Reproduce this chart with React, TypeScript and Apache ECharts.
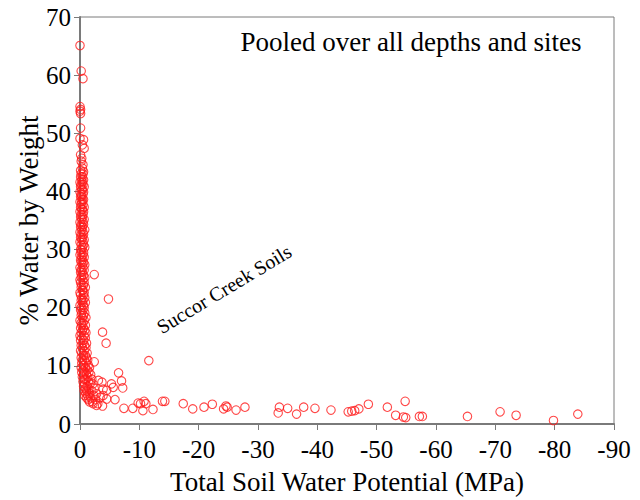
import React, { useEffect, useRef } from "react";
import * as echarts from "echarts";

// [potential (MPa), % water by weight]
const topPoints: [number, number][] = [
  [0, 65.1], [-0.2, 60.7], [-0.5, 59.4], [0, 54.6], [-0.1, 54.1], [0, 53.8], [-0.1, 53.4],
  [-0.1, 50.9], [0, 49.1], [-0.6, 48.9], [-0.4, 48.0], [-0.7, 47.4], [-0.1, 46.3],
  [-0.3, 45.7], [-0.2, 45.2], [-0.5, 44.6], [-0.4, 44.0], [-0.1, 43.6], [-0.6, 43.4],
];

const denseColumn: [number, number][] = [
  [-0.2, 43.0], [-0.5, 43.0], [-0.1, 42.5], [-0.4, 42.5], [-0.3, 42.0], [-0.6, 42.0],
  [0, 41.6], [-0.4, 41.6], [-0.2, 41.2], [-0.5, 41.2], [-0.1, 40.8], [-0.7, 40.8],
  [-0.3, 40.3], [-0.4, 40.3], [0, 39.9], [-0.6, 39.9], [-0.2, 39.5], [-0.5, 39.5],
  [-0.1, 39.1], [-0.3, 39.1], [-0.4, 38.6], [-0.6, 38.6], [0, 38.2], [-0.3, 38.2],
  [-0.2, 37.8], [-0.5, 37.8], [-0.1, 37.3], [-0.7, 37.3], [-0.3, 36.9], [-0.4, 36.9],
  [0, 36.5], [-0.6, 36.5], [-0.2, 36.0], [-0.5, 36.0], [-0.1, 35.6], [-0.4, 35.6],
  [-0.3, 35.2], [-0.7, 35.2], [0, 34.7], [-0.5, 34.7], [-0.2, 34.3], [-0.6, 34.3],
  [-0.1, 33.9], [-0.4, 33.9], [-0.3, 33.4], [-0.8, 33.4], [0, 33.0], [-0.5, 33.0],
  [-0.2, 32.6], [-0.6, 32.6], [-0.1, 32.1], [-0.4, 32.1], [-0.3, 31.7], [-0.7, 31.7],
  [0, 31.3], [-0.5, 31.3], [-0.2, 30.8], [-0.6, 30.8], [-0.4, 30.4], [-0.8, 30.4],
  [-0.1, 30.0], [-0.3, 30.0], [-0.2, 29.5], [-0.6, 29.5], [0, 29.1], [-0.5, 29.1],
  [-0.3, 28.7], [-0.7, 28.7], [-0.1, 28.2], [-0.4, 28.2], [-0.2, 27.8], [-0.6, 27.8],
  [-0.4, 27.4], [-0.8, 27.4], [0, 26.9], [-0.5, 26.9], [-0.2, 26.5], [-0.7, 26.5],
  [-0.1, 26.1], [-0.4, 26.1], [-0.3, 25.6], [-0.6, 25.6], [-0.2, 25.2], [-0.8, 25.2],
  [0, 24.8], [-0.5, 24.8], [-0.1, 24.3], [-0.7, 24.3], [-0.3, 23.9], [-0.6, 23.9],
  [-0.2, 23.5], [-0.9, 23.5], [-0.4, 23.0], [-0.5, 23.0], [0, 22.6], [-0.7, 22.6],
  [-0.1, 22.2], [-0.6, 22.2], [-0.3, 21.7], [-0.8, 21.7], [-0.2, 21.3], [-0.5, 21.3],
  [-0.4, 20.9], [-0.9, 20.9], [0, 20.4], [-0.6, 20.4], [-0.2, 20.0], [-0.7, 20.0],
  [-0.1, 19.6], [-0.5, 19.6], [-0.3, 19.1], [-0.8, 19.1], [-0.2, 18.7], [-0.6, 18.7],
  [-0.4, 18.3], [-1.0, 18.3], [0, 17.8], [-0.7, 17.8], [-0.2, 17.4], [-0.5, 17.4],
  [-0.3, 17.0], [-0.9, 17.0], [-0.1, 16.5], [-0.6, 16.5], [-0.4, 16.1], [-0.8, 16.1],
  [-0.2, 15.7], [-1.0, 15.7], [0, 15.2], [-0.7, 15.2], [-0.3, 14.8], [-0.9, 14.8],
  [-0.1, 14.4], [-0.6, 14.4], [-0.5, 13.9], [-1.1, 13.9], [-0.2, 13.5], [-0.8, 13.5],
  [-0.4, 13.1], [-1.0, 13.1], [-0.1, 12.6], [-0.7, 12.6], [-0.3, 12.2], [-1.2, 12.2],
  [-0.6, 11.8], [-0.9, 11.8], [-0.2, 11.4], [-1.1, 11.4], [-0.4, 11.0], [-0.8, 11.0],
  [-1.3, 11.0], [-0.3, 10.5], [-1.0, 10.5], [-0.6, 10.1], [-1.4, 10.1], [-0.2, 9.7],
  [-0.9, 9.7], [-1.6, 9.7], [-0.5, 9.3], [-1.2, 9.3], [-0.3, 8.9], [-0.8, 8.9],
  [-1.5, 8.9], [-0.6, 8.5], [-1.1, 8.5], [-1.8, 8.5], [-0.4, 8.1], [-1.3, 8.1],
  [-0.7, 7.7], [-1.0, 7.7], [-2.0, 7.7], [-0.5, 7.3], [-1.4, 7.3], [-0.8, 6.9],
  [-1.7, 6.9], [-2.2, 6.9], [-0.6, 6.5], [-1.2, 6.5], [-0.9, 6.1], [-1.5, 6.1],
  [-2.4, 6.1], [-0.7, 5.7], [-1.1, 5.7], [-2.0, 5.7], [-1.0, 5.3], [-1.6, 5.3],
  [-0.8, 4.9], [-1.3, 4.9], [-2.3, 4.9], [-1.1, 4.5], [-1.8, 4.5], [-1.4, 4.2],
  [-2.6, 4.2], [-1.6, 3.8], [-2.1, 3.8], [-3.0, 3.5],
];

const elbowPoints: [number, number][] = [
  [-2.4, 25.7], [-4.8, 21.5], [-3.8, 15.8], [-4.4, 13.9], [-2.4, 10.7], [-11.6, 10.9],
  [-6.5, 8.8], [-7.0, 7.4], [-7.2, 6.2], [-5.3, 6.9], [-5.6, 6.3], [-3.1, 7.5],
  [-3.7, 7.2], [-3.9, 6.0], [-4.5, 5.8], [-2.8, 5.2], [-3.4, 4.6], [-3.9, 4.9],
  [-5.9, 4.2], [-4.5, 4.3], [-2.2, 3.5], [-2.8, 3.2], [-3.8, 3.1], [-7.4, 2.7],
  [-8.9, 2.7], [-9.8, 3.6], [-10.2, 3.5], [-10.8, 3.9], [-11.1, 3.5], [-10.6, 2.3],
  [-12.3, 2.5],
];

const tailPoints: [number, number][] = [
  [-13.9, 3.9], [-14.3, 3.9], [-17.4, 3.5], [-19.0, 2.6], [-20.9, 2.9], [-22.3, 3.4],
  [-24.2, 2.6], [-24.6, 3.1], [-24.8, 2.9], [-26.3, 2.4], [-27.8, 2.9], [-33.6, 2.9],
  [-33.4, 1.9], [-35.0, 2.7], [-36.5, 1.7], [-37.7, 2.9], [-39.6, 2.7], [-42.3, 2.4],
  [-45.2, 2.1], [-45.8, 2.2], [-46.3, 2.3], [-47.0, 2.6], [-48.6, 3.4], [-51.8, 2.9],
  [-53.2, 1.5], [-54.8, 3.9], [-54.5, 1.2], [-54.9, 1.1], [-57.2, 1.3], [-57.7, 1.3],
  [-65.3, 1.3], [-70.8, 2.1], [-73.5, 1.5], [-79.8, 0.6], [-83.9, 1.7],
];

const xTicks = { min: -90, max: 0, interval: 10 };
const yTicks = { min: 0, max: 70, interval: 10 };
const titleText = "Pooled over all depths and sites";
const annotation = "Succor Creek Soils";

const FONT = "'Liberation Serif', 'DejaVu Serif', serif";
const AXIS_GRAY = "#7a7a7a";

export default function App() {
  const ref = useRef<HTMLDivElement>(null);
  useEffect(() => {
    if (!ref.current) return;
    const chart = echarts.init(ref.current, undefined, { renderer: "svg" });
    const allPoints = [...topPoints, ...denseColumn, ...elbowPoints, ...tailPoints];
    chart.setOption({
      animation: false,
      backgroundColor: "#ffffff",
      grid: {
        left: 80, right: 26, top: 17, bottom: 73,
        show: true, borderColor: AXIS_GRAY, borderWidth: 1, backgroundColor: "transparent",
      },
      xAxis: {
        type: "value",
        min: xTicks.min, max: xTicks.max, interval: xTicks.interval,
        inverse: true,
        name: "Total Soil Water Potential (MPa)",
        nameLocation: "middle",
        nameGap: 44,
        nameTextStyle: { fontFamily: FONT, fontSize: 27, color: "#000" },
        axisLine: { show: true, onZero: false, lineStyle: { color: AXIS_GRAY, width: 2 } },
        axisTick: { show: true, inside: false, length: 6, lineStyle: { color: AXIS_GRAY, width: 1 } },
        axisLabel: { fontFamily: FONT, fontSize: 25, color: "#000", margin: 13 },
        splitLine: { show: false },
      },
      yAxis: {
        type: "value",
        min: yTicks.min, max: yTicks.max, interval: yTicks.interval,
        name: "% Water by Weight",
        nameLocation: "middle",
        nameGap: 38,
        nameMoveOverlap: false,
        nameTextStyle: { fontFamily: FONT, fontSize: 27, color: "#000" },
        axisLine: { show: true, onZero: false, lineStyle: { color: AXIS_GRAY, width: 2 } },
        axisTick: { show: true, inside: false, length: 6, lineStyle: { color: AXIS_GRAY, width: 1 } },
        axisLabel: { fontFamily: FONT, fontSize: 25, color: "#000", margin: 9 },
        splitLine: { show: false },
      },
      graphic: [
        {
          type: "text",
          x: 411, y: 42,
          style: {
            text: titleText, fontFamily: FONT, fontSize: 27, fill: "#000",
            align: "center", verticalAlign: "middle",
          },
        },
        {
          type: "text",
          x: 224, y: 289,
          rotation: (31 * Math.PI) / 180,
          style: {
            text: annotation, fontFamily: FONT, fontSize: 20, fill: "#000",
            align: "center", verticalAlign: "middle",
          },
        },
      ],
      series: [
        {
          type: "scatter",
          data: allPoints,
          symbol: "circle",
          symbolSize: 8.5,
          itemStyle: { color: "transparent", borderColor: "#ff1a1a", borderWidth: 1.1 },
        },
      ],
    });
    return () => chart.dispose();
  }, []);
  return (
    <div
      ref={ref}
      style={{ position: "fixed", left: 0, top: 0, width: 640, height: 500 }}
    />
  );
}
